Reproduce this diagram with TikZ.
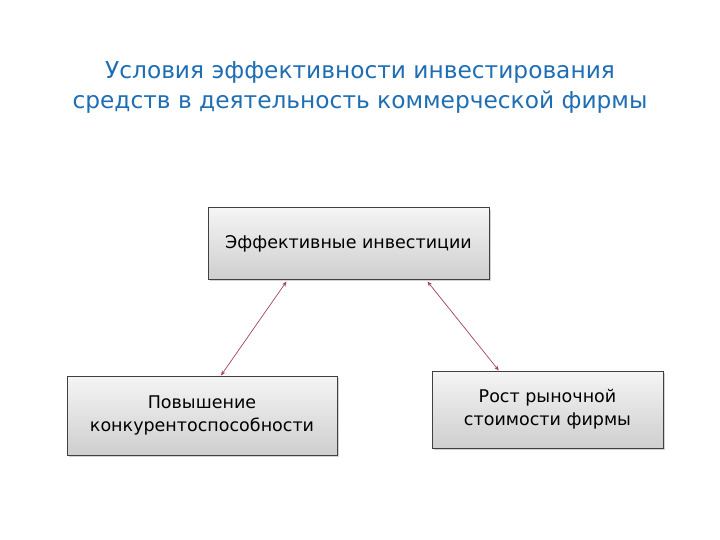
\documentclass[tikz,border=0pt]{standalone}
\usepackage{fontspec}
\setmainfont{DejaVu Sans}
\usepackage{tikz}
\usetikzlibrary{calc,shapes,arrows.meta,shadows}

\definecolor{titleblue}{HTML}{1F6EB4}
\definecolor{linkred}{HTML}{A3415E}

\tikzset{
  goalbox/.style={draw=black!75,line width=1pt,rectangle,
    top color=gray!8,bottom color=gray!38,
    drop shadow={shadow xshift=2pt,shadow yshift=-2pt,opacity=0.35},
    align=center,font=\fontsize{17.5}{23}\selectfont,inner sep=0pt},
  linkarrow/.style={draw=linkred,line width=0.7pt,{Stealth[length=5pt,width=4pt]}-{Stealth[length=5pt,width=4pt]}}
}

\begin{document}
\begin{tikzpicture}[x=1pt,y=-1pt]
  \useasboundingbox (0,0) rectangle (720,540);

  %% Title
  \node[text=titleblue,align=center,font=\fontsize{23.3}{30}\selectfont] (title) at (360,87)
    {Условия эффективности инвестирования\\средств в деятельность коммерческой фирмы};

  %% Boxes
  \node[goalbox,minimum width=281pt,minimum height=71pt] (invest) at (348.5,243.5)
    {Эффективные инвестиции};
  \node[goalbox,minimum width=270pt,minimum height=79pt] (compet) at (202,415.5)
    {Повышение\\конкурентоспособности};
  \node[goalbox,minimum width=231pt,minimum height=77pt] (value) at (547.5,409.5)
    {Рост рыночной\\стоимости фирмы};

  %% Links between boxes
  \draw[linkarrow] ($(invest.south west)!0.28!(invest.south east)+(0,2)$)
    -- ($(compet.north west)!0.57!(compet.north east)$);
  \draw[linkarrow] ($(invest.south west)!0.78!(invest.south east)+(0,2)$)
    -- ($(value.north west)!0.29!(value.north east)$);
\end{tikzpicture}
\end{document}
